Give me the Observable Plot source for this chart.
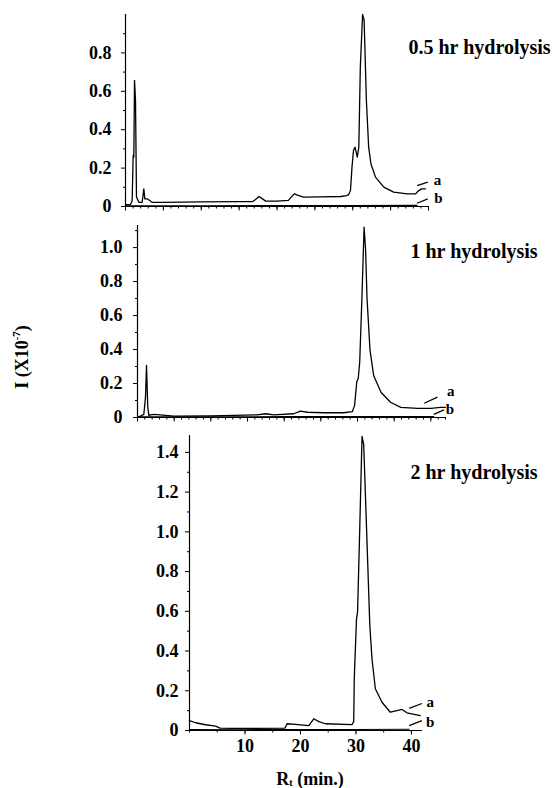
<!DOCTYPE html>
<html>
<head>
<meta charset="utf-8">
<script src="https://cdn.jsdelivr.net/npm/d3@7"></script>
<script src="https://cdn.jsdelivr.net/npm/@observablehq/plot@0.6"></script>
<style>
  html, body { margin: 0; padding: 0; background: white; }
  #wrap { position: relative; width: 556px; height: 788px; overflow: hidden; background: white;
          font-family: "Liberation Serif", serif; font-weight: bold; color: black; }
  .pane { position: absolute; left: 0; }
  .lab { position: absolute; white-space: nowrap; line-height: 1; font-size: 18px; }
  .lab sup { font-size: 0.6em; vertical-align: 0.7em; }
  .lab sub { font-size: 0.55em; vertical-align: -0.15em; }
</style>
</head>
<body>
<div id="wrap"></div>
<script>
// ---------- data ----------
const titles = ["0.5 hr hydrolysis", "1 hr hydrolysis", "2 hr hydrolysis"];
const yLabel = "I (X10";
const yLabelSup = "-7";
const xLabelMain = "R";
const xLabelSub = "t";
const xLabelRest = " (min.)";

const yTicks1 = [0, 0.2, 0.4, 0.6, 0.8];
const yTicks2 = [0, 0.2, 0.4, 0.6, 0.8, 1.0];
const yTicks3 = [0, 0.2, 0.4, 0.6, 0.8, 1.0, 1.2, 1.4];
const xTickLabels = [10, 20, 30, 40];

// 0.5 hr, curve a
const t1a = [0, 0.66, 0.88, 1.01, 1.1, 1.19, 1.32, 1.45, 1.76, 2.2, 2.42, 2.55, 2.86, 3.2, 3.5, 5, 10, 15, 16.8, 17.3, 17.6, 17.9, 18.5, 20, 21.5, 21.9, 22.3, 22.8, 23.5, 25.7, 28.4, 29.2, 29.46, 29.7, 29.9, 30.1, 30.3, 30.6, 30.8, 31.0, 31.3, 31.5, 31.8, 32.1, 32.4, 33.0, 34.1, 35.4, 37.2, 38.3, 38.7, 39.1, 39.6];
const v1a = [0.01, 0.01, 0.03, 0.266, 0.257, 0.657, 0.553, 0.049, 0.022, 0.022, 0.092, 0.04, 0.04, 0.031, 0.022, 0.022, 0.024, 0.025, 0.026, 0.04, 0.052, 0.045, 0.028, 0.028, 0.032, 0.05, 0.066, 0.058, 0.049, 0.05, 0.052, 0.057, 0.062, 0.083, 0.205, 0.292, 0.309, 0.257, 0.309, 0.726, 1.0, 0.97, 0.553, 0.309, 0.223, 0.153, 0.101, 0.075, 0.066, 0.066, 0.083, 0.092, 0.092];
// 0.5 hr, curve b
const t1b = [0, 10, 20, 30, 38.5];
const v1b = [0.004, 0.004, 0.005, 0.005, 0.006];

// 1 hr, curve a
const t2a = [0, 0.86, 1.09, 1.23, 1.4, 1.55, 1.8, 2.2, 3.1, 4.95, 10, 16.3, 17.5, 18.6, 21.3, 22.2, 23.2, 25.4, 28.1, 29.3, 29.6, 29.9, 30.1, 30.3, 30.6, 30.9, 31.1, 31.3, 31.7, 32.2, 33.2, 34.5, 35.9, 38.2, 40.0, 41.3, 42];
const v2a = [0, 0.018, 0.12, 0.306, 0.06, 0.012, 0.016, 0.018, 0.016, 0.008, 0.01, 0.016, 0.022, 0.016, 0.022, 0.037, 0.031, 0.028, 0.028, 0.035, 0.07, 0.21, 0.23, 0.325, 0.70, 1.12, 0.99, 0.70, 0.40, 0.247, 0.149, 0.09, 0.06, 0.054, 0.054, 0.06, 0.06];
// 1 hr, curve b
const t2b = [0, 10, 20, 30, 40.4];
const v2b = [0.004, 0.004, 0.005, 0.005, 0.006];

// 2 hr, curve a
const t3a = [0, 1.1, 2.9, 4.7, 5.5, 10, 17.2, 17.6, 19.1, 21.5, 22.4, 23.3, 24.5, 29.3, 29.6, 29.7, 30.1, 30.3, 30.7, 31.1, 31.4, 31.9, 32.5, 32.9, 33.5, 34.7, 36.2, 37.4, 38.3, 39.2, 41.6];
const v3a = [0.05, 0.039, 0.029, 0.022, 0.012, 0.01, 0.012, 0.034, 0.031, 0.025, 0.059, 0.045, 0.034, 0.03, 0.045, 0.26, 0.56, 0.60, 1.03, 1.48, 1.44, 1.03, 0.53, 0.36, 0.21, 0.142, 0.092, 0.10, 0.106, 0.089, 0.075];
// 2 hr, curve b
const t3b = [0, 10, 20, 30, 39.6];
const v3b = [0.005, 0.004, 0.005, 0.005, 0.006];

// curve-label annotations (data units): leader line and letter
const leaders1 = [[38.5, 0.109, 39.9, 0.127], [38.5, 0.017, 39.9, 0.04]];
const letters1 = [[41.2, 0.136, "a"], [41.3, 0.045, "b"]];
const leaders2 = [[39.1, 0.084, 40.9, 0.12], [40.4, 0.018, 41.8, 0.045]];
const letters2 = [[42.7, 0.153, "a"], [42.6, 0.047, "b"]];
const leaders3 = [[39.6, 0.111, 41.9, 0.136], [39.6, 0.025, 41.9, 0.05]];
const letters3 = [[43.4, 0.141, "a"], [43.4, 0.04, "b"]];

// ---------- drawing ----------
const zip = (t, v) => t.map((x, i) => ({t: x, v: v[i]}));
const fmt = d => d === 0 ? "0" : d.toFixed(1);
const range = (a, b, s) => d3.range(a, b + 1e-9, s);

function panel(cfg) {
  const yMinor = range(0, cfg.yDom[1], 0.1).filter(d => Math.abs(Math.round(d * 5) - d * 5) > 1e-6);
  const xMinor = range(0, cfg.xMax, cfg.xMinorStep);
  const marks = [
    Plot.ruleY([0], {stroke: "black", strokeWidth: 1.2}),
    Plot.ruleX([0], {stroke: "black", strokeWidth: 1.2}),
    Plot.axisY({ticks: cfg.yTicks, tickSize: 4, tickPadding: cfg.yPad, tickFormat: fmt, label: null, fontSize: 18, strokeWidth: 1}),
    Plot.axisY({ticks: yMinor, tickSize: 2, tickFormat: () => "", label: null}),
    Plot.axisX({ticks: xMinor, tickSize: 2.5, tickFormat: () => "", label: null}),
    Plot.axisX({ticks: cfg.xMajor, tickSize: 4.5, tickPadding: 4, tickFormat: cfg.xLabels ? (d => cfg.xLabels.includes(d) ? String(d) : "") : () => "", label: null, fontSize: 18}),
    Plot.line(cfg.b, {x: "t", y: "v", stroke: "black", strokeWidth: 1.1}),
    Plot.line(cfg.a, {x: "t", y: "v", stroke: "black", strokeWidth: 1.3, strokeLinejoin: "round"}),
    Plot.link(cfg.leaders, {x1: d => d[0], y1: d => d[1], x2: d => d[2], y2: d => d[3], stroke: "black", strokeWidth: 1.3}),
    Plot.text(cfg.letters, {x: d => d[0], y: d => d[1], text: d => d[2], fontSize: 15, fontWeight: "bold"}),
    Plot.text([cfg.title], {frameAnchor: "top-right", textAnchor: "start", dx: cfg.titleDx, dy: cfg.titleDy, fontSize: 20, fontWeight: "bold"})
  ];
  const chart = Plot.plot({
    width: 556,
    height: cfg.height,
    marginLeft: cfg.mL, marginRight: cfg.mR, marginTop: cfg.mT, marginBottom: cfg.mB,
    x: {domain: [0, cfg.xMax], axis: null},
    y: {domain: cfg.yDom, axis: null},
    style: {fontFamily: "Liberation Serif, serif", fontWeight: "bold", fontSize: "18px", color: "black", background: "transparent", overflow: "visible"},
    marks
  });
  const div = document.createElement("div");
  div.className = "pane";
  div.style.top = cfg.top + "px";
  div.appendChild(chart);
  document.getElementById("wrap").appendChild(div);
  return chart;
}

panel({top: 0, height: 215, mL: 125, mR: 128, mT: 14, mB: 9, xMax: 40, xMinorStep: 1, xMajor: range(0, 40, 5),
  yDom: [0, 1.0], yTicks: yTicks1, yPad: 10,
  a: zip(t1a, v1a), b: zip(t1b, v1b), leaders: leaders1, letters: letters1,
  title: titles[0], titleDx: -20, titleDy: 25});

panel({top: 215, height: 210, mL: 137, mR: 111, mT: 10, mB: 8, xMax: 42, xMinorStep: 1, xMajor: range(0, 40, 5),
  yDom: [0, 1.13], yTicks: yTicks2, yPad: 11,
  a: zip(t2a, v2a), b: zip(t2b, v2b), leaders: leaders2, letters: letters2,
  title: titles[1], titleDx: -35, titleDy: 18});

panel({top: 425, height: 363, mL: 189, mR: 134, mT: 10, mB: 58, xMax: 42, xMinorStep: 5, xMajor: xTickLabels, xLabels: xTickLabels,
  yDom: [0, 1.485], yTicks: yTicks3, yPad: 7,
  a: zip(t3a, v3a), b: zip(t3b, v3b), leaders: leaders3, letters: letters3,
  title: titles[2], titleDx: -12, titleDy: 29});

// axis titles
const wrap = document.getElementById("wrap");
const yl = document.createElement("div");
yl.className = "lab";
yl.style.left = "21px"; yl.style.top = "357px";
yl.style.transform = "translate(-50%,-50%) rotate(-90deg)";
yl.innerHTML = `${yLabel}<sup>${yLabelSup}</sup>)`;
wrap.appendChild(yl);

const xl = document.createElement("div");
xl.className = "lab";
xl.style.left = "310px"; xl.style.top = "770px";
xl.style.transform = "translateX(-50%)";
xl.innerHTML = `${xLabelMain}<sub>${xLabelSub}</sub>${xLabelRest}`;
wrap.appendChild(xl);
</script>
</body>
</html>
